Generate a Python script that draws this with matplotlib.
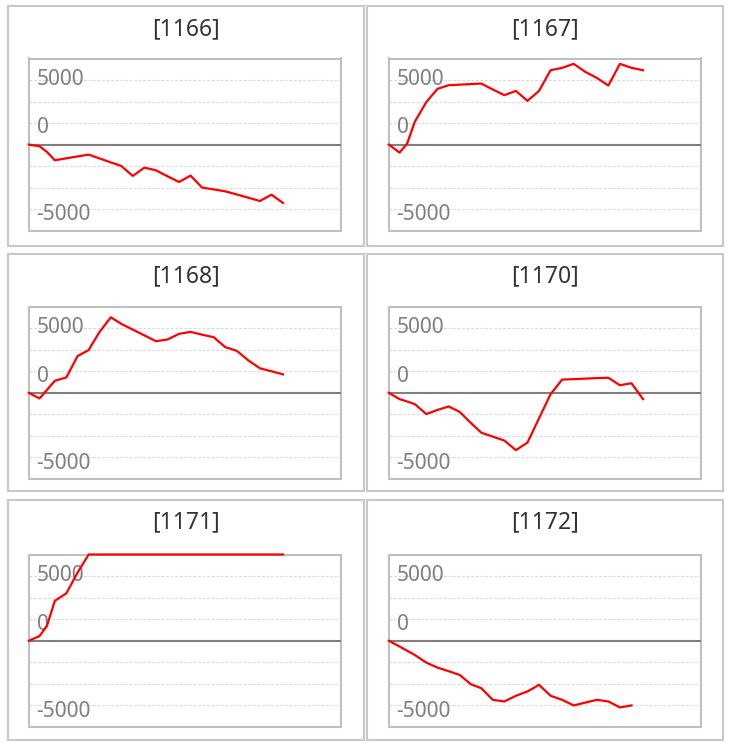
import matplotlib
matplotlib.use("Agg")
import matplotlib.pyplot as plt
import matplotlib.transforms as mtransforms
from matplotlib.patches import Rectangle

# ---------------- data ----------------
titles = ["[1166]", "[1167]", "[1168]", "[1170]", "[1171]", "[1172]"]

# shared x positions
x_pos = [0, 0.93, 1.58, 2.25, 3.25, 4.22, 5.18, 6.13, 7.1, 8, 9, 10, 11,
         12, 13, 14, 15, 16, 17, 18, 19, 20, 21, 22]

s1166 = [0, -190, -860, -1820, -1590, -1375, -1160, -1610, -2070, -2480,
         -3640, -2675, -2985, -3680, -4340, -3600, -5000, -5200, -5430,
         -5790, -6170, -6550, -5815, -6780]
s1167 = [0, -930, 100, 2650, 4950, 6480, 6900, 6960, 7030, 7090, 6400,
         5740, 6240, 5080, 6240, 8640, 8915, 9380, 8450, 7750, 6860, 9380,
         8915, 8640]
s1168 = [0, -650, 360, 1395, 1790, 4270, 4970, 7090, 8770, 8010, 7340,
         6670, 6000, 6190, 6850, 7080, 6750, 6460, 5310, 4880, 3770, 2850,
         2500, 2150]
s1170 = [0, -730, -1000, -1310, -2460, -1980, -1580, -2210, -3490, -4620,
         -5080, -5540, -6650, -5770, -2960, -150, 1540, 1590, 1650, 1715,
         1750, 885, 1115, -730]
s1171 = [0, 550, 1750, 4630, 5500, 7900, 10000, 10000, 10000, 10000, 10000,
         10000, 10000, 10000, 10000, 10000, 10000, 10000, 10000, 10000,
         10000, 10000, 10000, 10000]
s1172 = [0, -670, -1150, -1650, -2540, -3115, -3530, -3960, -5040, -5500,
         -6850, -7040, -6380, -5880, -5115, -6380, -6850, -7500, -7170,
         -6850, -7040, -7730, -7500]
series = [s1166, s1167, s1168, s1170, s1171, s1172]

tick_labels = ["5000", "0", "-5000"]
tick_label_pos = [6900, 1300, -8800]
grid_vals = [-7500, -5000, -2500, 2500, 5000, 7500]

# ---------------- layout ----------------
W, H = 731, 744
fig = plt.figure(figsize=(W / 100, H / 100), dpi=100)
fig.patch.set_facecolor("white")

def frac(l, t, r, b):
    return [l / W, 1 - b / H, (r - l) / W, (b - t) / H]

outer_cols = [(7.7, 364.4), (366.6, 722.7)]
outer_rows = [(6.2, 245.5), (254.5, 490.7), (500.0, 740.0)]
inner_cols = [(28.8, 340.8), (388.8, 700.8)]
inner_rows = [(58.5, 230.7), (306.7, 479.0), (554.5, 727.0)]
title_y = [28.8, 276.0, 522.5]

FONT = ["Noto Sans", "DejaVu Sans"]

for i, (title, vals) in enumerate(zip(titles, series)):
    r, c = divmod(i, 2)
    ol, orr = outer_cols[c]
    ot, ob = outer_rows[r]
    fig.patches.append(Rectangle((ol / W, 1 - ob / H), (orr - ol) / W,
                                 (ob - ot) / H, transform=fig.transFigure,
                                 fill=False, edgecolor="#c8c8c8", lw=1.5))
    fig.text((ol + orr) / 2 / W, 1 - title_y[r] / H, title, ha="center",
             va="center", fontsize=16.5, color="#333333", family=FONT)

    il, ir = inner_cols[c]
    it, ib = inner_rows[r]
    ax = fig.add_axes(frac(il, it, ir, ib))
    ax.set_xlim(0, 27)
    ax.set_ylim(-10000, 10000)
    ax.set_axisbelow(True)
    ax.set_yticks(grid_vals)
    ax.set_xticks([])
    ax.tick_params(length=0, labelleft=False)
    ax.yaxis.grid(True, color="#d9d9d9", linestyle=(0, (2.5, 1.6)), lw=0.8)
    for sp in ax.spines.values():
        sp.set_color("#c0c0c0")
        sp.set_linewidth(1.5)
        sp.set_zorder(1.5)
    ax.axhline(0, color="#808080", lw=1.5, zorder=2.5)

    trans = mtransforms.blended_transform_factory(ax.transAxes, ax.transData)
    for lab, pos in zip(tick_labels, tick_label_pos):
        ax.text(0.025, pos, lab, transform=trans, ha="left", va="baseline",
                fontsize=15, color="#7f7f7f", family=FONT, zorder=2)

    ax.plot(x_pos[:len(vals)], vals, color="#ff0000", lw=1.6, zorder=3,
            clip_on=False)

fig.savefig("out.png", dpi=100, facecolor="white")
